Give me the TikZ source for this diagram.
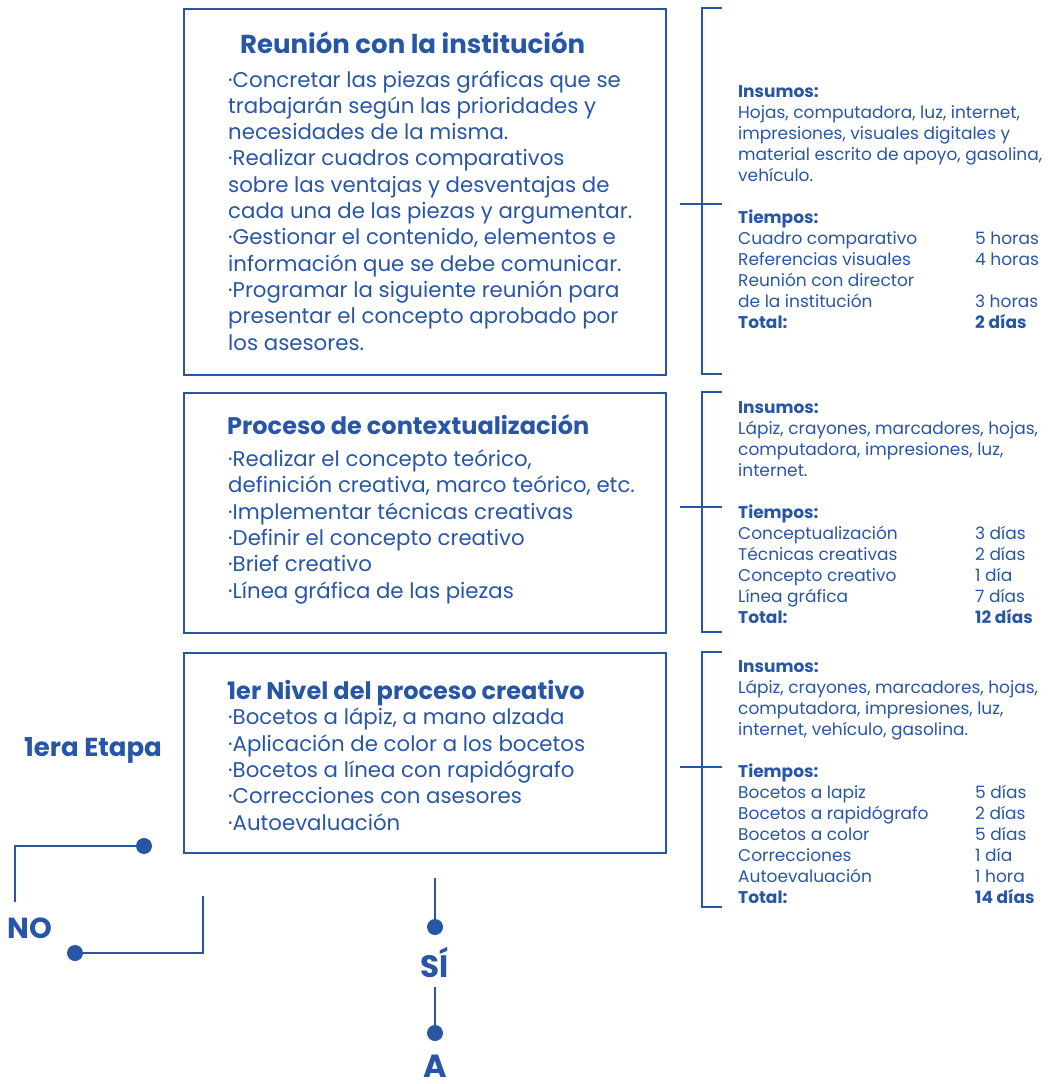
\documentclass[tikz,border=0pt]{standalone}
\usepackage{fontspec}
\setmainfont{Poppins}
\definecolor{azul}{RGB}{40,86,166}
\newcommand{\fila}[2]{\makebox[237pt][l]{#1}#2}

\tikzset{
  caja/.style={draw=azul, line width=1.6pt, inner sep=0pt, anchor=north west},
  linea/.style={azul, line width=1.6pt},
  punto/.style={circle, fill=azul, inner sep=0pt, minimum size=16pt},
  titulo/.style={azul, anchor=base west, inner sep=0pt, font=\fontsize{24}{30}\selectfont\bfseries},
  cuerpo/.style={azul, anchor=base west, inner sep=0pt, align=left, font=\fontsize{21.3}{26.3}\selectfont},
  datos/.style={azul, anchor=base west, inner sep=0pt, align=left, font=\fontsize{17}{21}\selectfont},
  rotulo/.style={azul, inner sep=0pt, font=\bfseries}
}

\begin{document}
\begin{tikzpicture}[x=1pt, y=-1pt]
\useasboundingbox (0,0) rectangle (1047,1084);

% cajas (los textos de varias lineas se ponen por su ultima linea)
\node[caja, minimum width=482pt, minimum height=366pt] (reunion) at (183,8) {};
\node[caja, minimum width=482pt, minimum height=240pt] (contexto) at (183,392) {};
\node[caja, minimum width=482pt, minimum height=200pt] (nivel) at (183,652) {};

\node[titulo, font=\fontsize{26}{30}\selectfont\bfseries] (tituloA) at (240,53) {Reunión con la institución};
\node[cuerpo] (textoA) at (228,350) {·Concretar las piezas gráficas que se\\
trabajarán según las prioridades y\\
necesidades de la misma.\\
·Realizar cuadros comparativos\\
sobre las ventajas y desventajas de\\
cada una de las piezas y argumentar.\\
·Gestionar el contenido, elementos e\\
información que se debe comunicar.\\
·Programar la siguiente reunión para\\
presentar el concepto aprobado por\\
los asesores.};

\node[titulo] (tituloB) at (227,434) {Proceso de contextualización};
\node[cuerpo] (textoB) at (228,598) {·Realizar el concepto teórico,\\
definición creativa, marco teórico, etc.\\
·Implementar técnicas creativas\\
·Definir el concepto creativo\\
·Brief creativo\\
·Línea gráfica de las piezas};

\node[titulo] (tituloC) at (227,699) {1er Nivel del proceso creativo};
\node[cuerpo] (textoC) at (228,830) {·Bocetos a lápiz, a mano alzada\\
·Aplicación de color a los bocetos\\
·Bocetos a línea con rapidógrafo\\
·Correcciones con asesores\\
·Autoevaluación};

% llaves
\draw[linea] (722,8) -- (702,8) -- (702,374) -- (722,374);
\draw[linea] (680,204) -- (722,204);
\draw[linea] (722,392) -- (702,392) -- (702,632) -- (722,632);
\draw[linea] (680,507) -- (722,507);
\draw[linea] (722,652) -- (702,652) -- (702,907) -- (722,907);
\draw[linea] (680,767) -- (722,767);

\node[datos] (datosA) at (738,328) {\textbf{Insumos:}\\
Hojas, computadora, luz, internet,\\
impresiones, visuales digitales y\\
material escrito de apoyo, gasolina,\\
vehículo.\\[21pt]
\textbf{Tiempos:}\\
\fila{Cuadro comparativo}{5 horas}\\
\fila{Referencias visuales}{4 horas}\\
Reunión con director\\
\fila{de la institución}{3 horas}\\
\fila{\textbf{Total:}}{\textbf{2 días}}};

\node[datos] (datosB) at (738,623) {\textbf{Insumos:}\\
Lápiz, crayones, marcadores, hojas,\\
computadora, impresiones, luz,\\
internet.\\[21pt]
\textbf{Tiempos:}\\
\fila{Conceptualización}{3 días}\\
\fila{Técnicas creativas}{2 días}\\
\fila{Concepto creativo}{1 día}\\
\fila{Línea gráfica}{7 días}\\
\fila{\textbf{Total:}}{\textbf{12 días}}};

\node[datos] (datosC) at (738,903) {\textbf{Insumos:}\\
Lápiz, crayones, marcadores, hojas,\\
computadora, impresiones, luz,\\
internet, vehículo, gasolina.\\[21pt]
\textbf{Tiempos:}\\
\fila{Bocetos a lapiz}{5 días}\\
\fila{Bocetos a rapidógrafo}{2 días}\\
\fila{Bocetos a color}{5 días}\\
\fila{Correcciones}{1 día}\\
\fila{Autoevaluación}{1 hora}\\
\fila{\textbf{Total:}}{\textbf{14 días}}};

% etapa y decisiones
\node[rotulo, font=\fontsize{26}{30}\selectfont\bfseries] (etapa) at (93,750) {1era Etapa};
\node[rotulo, font=\fontsize{29}{32}\selectfont\bfseries] (no) at (30,928) {NO};
\node[rotulo, anchor=base, font=\fontsize{31}{34}\selectfont\bfseries] (si) at (435,977) {SÍ};
\node[rotulo, anchor=base, font=\fontsize{32}{36}\selectfont\bfseries] (a) at (435,1077) {A};

\node[punto] (puntoA) at (144,846) {};
\node[punto] (puntoB) at (75,953) {};
\node[punto] (puntoC) at (435,927) {};
\node[punto] (puntoD) at (435,1033) {};
\coordinate (finA) at (15,902);
\coordinate (finB) at (203,896);
\coordinate (finC) at (435,878);
\coordinate (finD) at (435,987);

\draw[linea] (puntoA.center) -| (finA);
\draw[linea] (puntoB.center) -| (finB);
\draw[linea] (finC) -- (puntoC.center);
\draw[linea] (finD) -- (puntoD.center);
\end{tikzpicture}
\end{document}
